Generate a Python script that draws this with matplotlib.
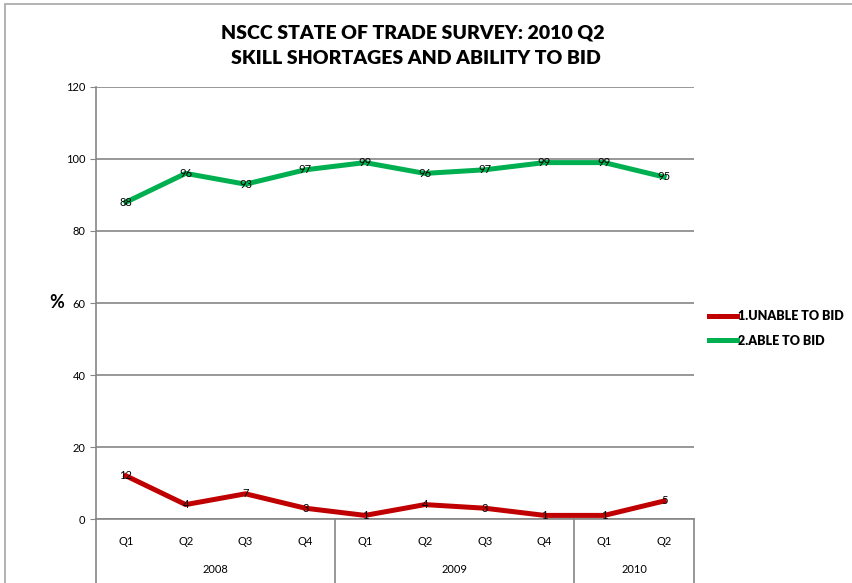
import matplotlib.pyplot as plt
from matplotlib.patches import Rectangle

quarters = ["Q1", "Q2", "Q3", "Q4", "Q1", "Q2", "Q3", "Q4", "Q1", "Q2"]
years = ["2008", "2009", "2010"]
year_spans = [(0, 4), (4, 8), (8, 10)]
unable = [12, 4, 7, 3, 1, 4, 3, 1, 1, 5]
able = [88, 96, 93, 97, 99, 96, 97, 99, 99, 95]

plt.rcParams['font.family'] = ['Lato', 'DejaVu Sans']

fig = plt.figure(figsize=(8.52, 5.83), dpi=100)
ax = fig.add_axes([96 / 852, 64 / 583, 598 / 852, 432 / 583])

# outer chart border (cropped on right and bottom)
fig.patches.append(Rectangle((5 / 852, -0.1), 1.2, (583 - 4) / 583 + 0.1,
                             transform=fig.transFigure, fill=False,
                             edgecolor='#A6A6A6', linewidth=1.2))

x = list(range(len(quarters)))
ax.plot(x, unable, color='#C00000', linewidth=3.6, label='1.UNABLE TO BID', zorder=3)
ax.plot(x, able, color='#00B050', linewidth=3.6, label='2.ABLE TO BID', zorder=3)

for xi, v in zip(x, unable):
    ax.text(xi, v, str(v), ha='center', va='center', fontsize=8, zorder=4)
for xi, v in zip(x, able):
    ax.text(xi, v, str(v), ha='center', va='center', fontsize=8, zorder=4)

ax.set_xlim(-0.5, 9.5)
ax.set_ylim(0, 120)
ax.set_yticks(range(0, 121, 20))
ax.tick_params(axis='y', labelsize=8, length=4, color='#868686')
ax.set_xticks([])
ax.yaxis.grid(True, color='#868686', linewidth=1.2)
ax.set_axisbelow(True)
for s in ['top', 'right']:
    ax.spines[s].set_visible(False)
ax.spines['left'].set_color('#868686')
ax.spines['bottom'].set_color('#868686')
ax.spines['left'].set_linewidth(1.2)
ax.spines['bottom'].set_linewidth(1.2)

# two-level category axis
depth = -64 / 432
for xi, q in zip(x, quarters):
    ax.text(xi, -0.051, q, transform=ax.get_xaxis_transform(), ha='center',
            va='center', fontsize=8)
for (a, b), yr in zip(year_spans, years):
    ax.text((a + b - 1) / 2, -0.118, yr, transform=ax.get_xaxis_transform(),
            ha='center', va='center', fontsize=8)
for edge in [-0.5, 3.5, 7.5, 9.5]:
    ax.plot([edge, edge], [0, depth], transform=ax.get_xaxis_transform(),
            color='#868686', linewidth=1.2, clip_on=False)

ax.text(-0.065, 0.5, '%', transform=ax.transAxes, ha='center', va='center',
        fontsize=13, fontweight='bold')

fig.text(413 / 852, 1 - 33 / 583, 'NSCC STATE OF TRADE SURVEY: 2010 Q2',
         ha='center', va='center', fontsize=14, fontweight='heavy')
fig.text(416 / 852, 1 - 59 / 583, 'SKILL SHORTAGES AND ABILITY TO BID',
         ha='center', va='center', fontsize=14, fontweight='heavy')

fig.legend(loc='upper left', bbox_to_anchor=(698 / 852, 1 - 299 / 583),
           frameon=False, handlelength=2.2, handletextpad=0.1,
           labelspacing=1.0, prop={'weight': 'heavy', 'size': 9})

fig.savefig('out.png', dpi=100)
